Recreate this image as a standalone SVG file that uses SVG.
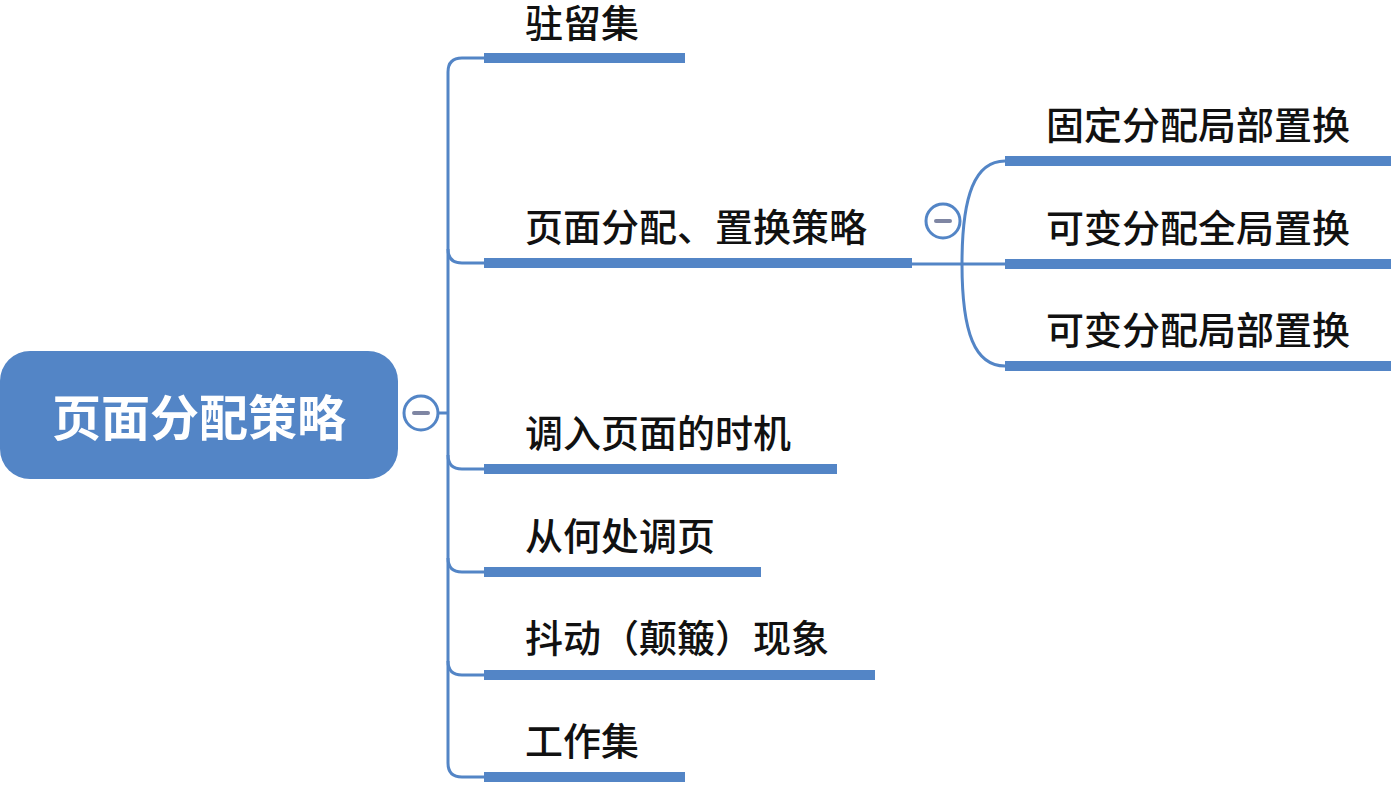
<svg xmlns="http://www.w3.org/2000/svg" width="1391" height="786" viewBox="0 0 1391 786">
<style>
.bar{fill:#5385c6}
.ln{fill:none;stroke:#5385c6;stroke-width:3}
.t{font-family:"Noto Sans CJK SC","Noto Sans",sans-serif;font-size:38px;font-weight:500;fill:#111}
.root{font-family:"Noto Sans CJK SC","Noto Sans",sans-serif;font-size:49px;font-weight:bold;fill:#fff}
.btn{fill:#fff;stroke:#5385c6;stroke-width:3}
.minus{stroke:#7f86a3;stroke-width:4;stroke-linecap:round}
</style>
<rect width="1391" height="786" fill="#fff"/>
<g id="connectors">
<path class="ln" d="M439 413 H448"/>
<path class="ln" d="M484 58 H462 Q448 58 448 72 V763 Q448 777 462 777 H484"/>
<path class="ln" d="M448 249 Q448 263 462 263 H484"/>
<path class="ln" d="M448 455 Q448 469 462 469 H484"/>
<path class="ln" d="M448 558 Q448 572 462 572 H484"/>
<path class="ln" d="M448 661 Q448 675 462 675 H484"/>
<path class="ln" d="M912 264 H1005"/>
<path class="ln" d="M962 264 C962 195 975 161 1005 161"/>
<path class="ln" d="M962 264 C962 333 975 366 1005 366"/>
</g>
<g id="root">
<rect x="0" y="351" width="398" height="128" rx="30" fill="#5385c6"/>
<text class="root" x="199" y="436" text-anchor="middle">页面分配策略</text>
<circle class="btn" cx="421" cy="413" r="17"/>
<line class="minus" x1="414" y1="413" x2="428" y2="413"/>
</g>
<g id="n1">
<rect class="bar" x="484" y="53" width="201" height="10"/>
<text class="t" x="525" y="37">驻留集</text>
</g>
<g id="n2">
<rect class="bar" x="484" y="258" width="428" height="10"/>
<text class="t" x="525" y="241">页面分配、置换策略</text>
<circle class="btn" cx="943" cy="221" r="17"/>
<line class="minus" x1="936" y1="221" x2="950" y2="221"/>
</g>
<g id="n2a">
<rect class="bar" x="1005" y="156" width="386" height="10"/>
<text class="t" x="1046" y="139">固定分配局部置换</text>
</g>
<g id="n2b">
<rect class="bar" x="1005" y="259" width="386" height="10"/>
<text class="t" x="1046" y="242">可变分配全局置换</text>
</g>
<g id="n2c">
<rect class="bar" x="1005" y="361" width="386" height="10"/>
<text class="t" x="1046" y="344">可变分配局部置换</text>
</g>
<g id="n3">
<rect class="bar" x="484" y="464" width="353" height="10"/>
<text class="t" x="525" y="447">调入页面的时机</text>
</g>
<g id="n4">
<rect class="bar" x="484" y="567" width="277" height="10"/>
<text class="t" x="525" y="550">从何处调页</text>
</g>
<g id="n5">
<rect class="bar" x="484" y="670" width="391" height="10"/>
<text class="t" x="525" y="652">抖动（颠簸）现象</text>
</g>
<g id="n6">
<rect class="bar" x="484" y="772" width="201" height="10"/>
<text class="t" x="525" y="755">工作集</text>
</g>
</svg>
